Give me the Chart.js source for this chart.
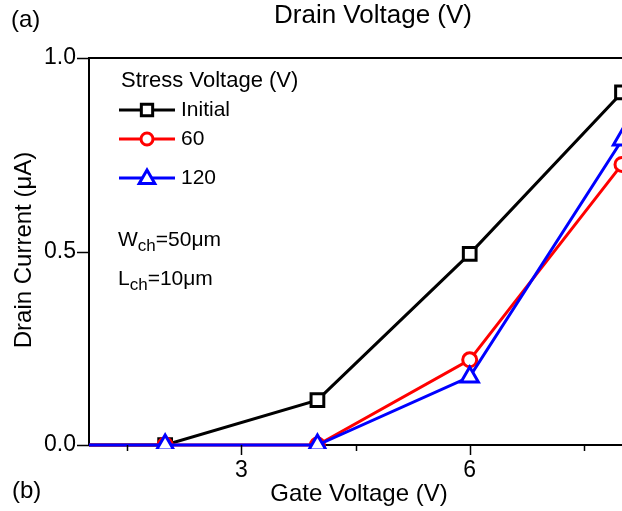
<!DOCTYPE html>
<html>
<head>
<meta charset="utf-8">
<script src="https://cdn.jsdelivr.net/npm/chart.js@4/dist/chart.umd.min.js"></script>
<style>
  html, body { margin: 0; padding: 0; overflow: hidden; background: #fff; }
  #wrap { width: 622px; height: 511px; position: relative; }
</style>
</head>
<body>
<div id="wrap"><canvas id="ivChart"></canvas></div>
<script>
const gateVoltage = [0, 2, 4, 6, 8];
const currentInitial = [0, 0, 0.116, 0.494, 0.911];
const current60 = [0, 0, 0, 0.22, 0.725];
const current120 = [0, 0, 0, 0.176, 0.788];
const seriesNames = ["Initial", "60", "120"];

const xMajorTicks = [3, 6];
const xMinorTicks = [1.5, 4.5, 7.5];
const yTicks = [0, 0.5, 1.0];

const FONT = "'Liberation Sans', Arial, sans-serif";

function toPoints(ys) {
  return gateVoltage.map((x, i) => ({ x: x, y: ys[i] }));
}

// small marker painter, used for the legend samples
function marker(ctx, style, x, y, r, color) {
  ctx.save();
  ctx.strokeStyle = color;
  ctx.fillStyle = "#fff";
  ctx.lineWidth = 3;
  ctx.beginPath();
  if (style === "rect") {
    const s = Math.SQRT1_2 * r;
    ctx.rect(x - s, y - s, 2 * s, 2 * s);
  } else if (style === "circle") {
    ctx.arc(x, y, r, 0, Math.PI * 2);
  } else {
    let a = 0;
    ctx.moveTo(x + Math.sin(a) * r, y - Math.cos(a) * r);
    a += (2 * Math.PI) / 3;
    ctx.lineTo(x + Math.sin(a) * r, y - Math.cos(a) * r);
    a += (2 * Math.PI) / 3;
    ctx.lineTo(x + Math.sin(a) * r, y - Math.cos(a) * r);
    ctx.closePath();
  }
  ctx.fill();
  ctx.stroke();
  ctx.restore();
}

function subText(ctx, x, y, main, sub, rest) {
  ctx.font = "21px " + FONT;
  ctx.fillText(main, x, y);
  x += ctx.measureText(main).width;
  ctx.font = "17px " + FONT;
  ctx.fillText(sub, x, y + 6);
  x += ctx.measureText(sub).width;
  ctx.font = "21px " + FONT;
  ctx.fillText(rest, x, y);
}

const decorations = {
  id: "decorations",
  afterDraw(chart) {
    const ctx = chart.ctx;
    const area = chart.chartArea;
    const xs = chart.scales.x;
    const ys = chart.scales.y;
    ctx.save();
    ctx.fillStyle = "#000";
    ctx.strokeStyle = "#000";

    // top frame line
    ctx.lineWidth = 2;
    ctx.beginPath();
    ctx.moveTo(area.left - 1, area.top);
    ctx.lineTo(area.right, area.top);
    ctx.stroke();

    // tick marks
    ctx.lineWidth = 1.5;
    ctx.beginPath();
    xMajorTicks.forEach((v) => {
      const px = Math.round(xs.getPixelForValue(v)) + 0.5;
      ctx.moveTo(px, area.bottom);
      ctx.lineTo(px, area.bottom + 10);
    });
    xMinorTicks.forEach((v) => {
      const px = Math.round(xs.getPixelForValue(v)) + 0.5;
      ctx.moveTo(px, area.bottom);
      ctx.lineTo(px, area.bottom + 6);
    });
    yTicks.forEach((v) => {
      const py = Math.round(ys.getPixelForValue(v)) + 0.5;
      ctx.moveTo(area.left - 12, py);
      ctx.lineTo(area.left, py);
    });
    ctx.stroke();

    // titles
    ctx.textBaseline = "middle";
    ctx.textAlign = "center";
    ctx.font = "26px " + FONT;
    ctx.fillText("Drain Voltage (V)", 373, 16);
    ctx.font = "24px " + FONT;
    ctx.fillText("Gate Voltage (V)", 359, 494);
    ctx.save();
    ctx.translate(24, 250);
    ctx.rotate(-Math.PI / 2);
    ctx.fillText("Drain Current (\u03BCA)", 0, 0);
    ctx.restore();

    ctx.textAlign = "left";
    ctx.font = "24px " + FONT;
    ctx.fillText("(a)", 11, 20);
    ctx.fillText("(b)", 12, 491);

    // legend
    ctx.font = "22px " + FONT;
    ctx.fillText("Stress Voltage (V)", 121, 81);
    const rowsY = [110, 139, 178];
    chart.data.datasets.forEach((ds, i) => {
      const y = rowsY[i];
      ctx.strokeStyle = ds.borderColor;
      ctx.lineWidth = 3;
      ctx.beginPath();
      ctx.moveTo(119, y);
      ctx.lineTo(175, y);
      ctx.stroke();
      marker(ctx, ds.pointStyle, 147, ds.pointStyle === "triangle" ? y + 1 : y, ds.pointRadius - 1, ds.borderColor);
      ctx.fillStyle = "#000";
      ctx.font = "21px " + FONT;
      ctx.fillText(seriesNames[i], 181, y);
    });

    subText(ctx, 118, 240, "W", "ch", "=50\u03BCm");
    subText(ctx, 118, 279, "L", "ch", "=10\u03BCm");
    ctx.restore();
  },
};

function makeSet(name, ys, color, style, radius, order) {
  return {
    label: name,
    data: toPoints(ys),
    borderColor: color,
    backgroundColor: "#fff",
    borderWidth: 3,
    pointStyle: style,
    pointRadius: radius,
    pointBorderWidth: 3,
    pointBackgroundColor: "#fff",
    pointBorderColor: color,
    tension: 0,
    order: order,
    clip: { left: 0, top: 0, right: 0, bottom: 4 },
  };
}

const chart = new Chart(document.getElementById("ivChart"), {
  type: "line",
  data: {
    datasets: [
      makeSet(seriesNames[0], currentInitial, "#000000", "rect", 9, 2),
      makeSet(seriesNames[1], current60, "#ff0000", "circle", 7, 1),
      makeSet(seriesNames[2], current120, "#0000ff", "triangle", 10, 0),
    ],
  },
  options: {
    responsive: true,
    maintainAspectRatio: false,
    animation: false,
    layout: { autoPadding: false, padding: { top: 58, left: 0, right: 0, bottom: 0 } },
    plugins: { legend: { display: false }, tooltip: { enabled: false } },
    scales: {
      x: {
        type: "linear",
        min: 1,
        max: 8,
        afterBuildTicks: (s) => { s.ticks = xMajorTicks.map((v) => ({ value: v })); },
        afterFit: (s) => { s.height = 66; s.paddingLeft = 0; s.paddingRight = 0; },
        ticks: { color: "#000", font: { family: FONT, size: 23 }, padding: 12, maxRotation: 0, autoSkip: false },
        grid: { display: true, drawOnChartArea: false, drawTicks: false },
        border: { display: true, color: "#000", width: 2 },
      },
      y: {
        min: 0,
        max: 1,
        afterBuildTicks: (s) => { s.ticks = yTicks.map((v) => ({ value: v })); },
        afterFit: (s) => { s.width = 89; s.paddingTop = 0; s.paddingBottom = 0; },
        ticks: { color: "#000", font: { family: FONT, size: 23 }, padding: 13, callback: (v) => v.toFixed(1) },
        grid: { display: true, drawOnChartArea: false, drawTicks: false },
        border: { display: true, color: "#000", width: 2 },
      },
    },
  },
  plugins: [decorations],
});
</script>
</body>
</html>
